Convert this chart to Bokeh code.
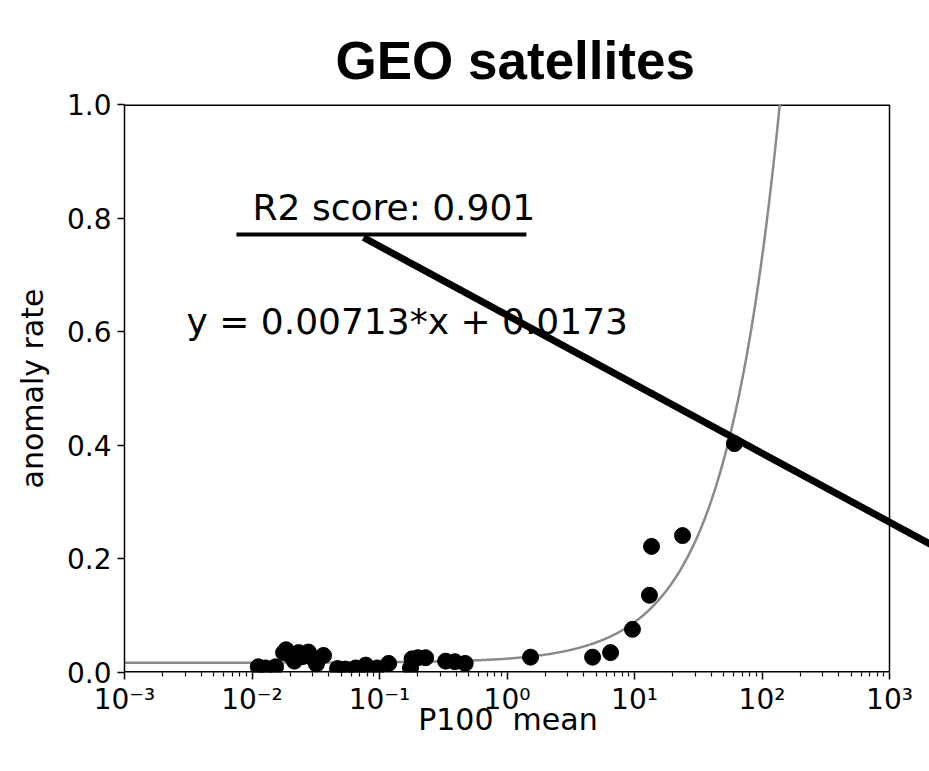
import numpy as np
from bokeh.plotting import figure
from bokeh.models import FixedTicker, CustomJSTickFormatter, PrintfTickFormatter, Arrow, Label, Range1d
from bokeh.embed import file_html
from bokeh.resources import INLINE

# ---- data ----
p100_mean = [0.0112, 0.0128, 0.0153, 0.0177, 0.0185, 0.0200, 0.0215, 0.0232, 0.0250,
             0.0277, 0.0300, 0.0320, 0.0364, 0.0469, 0.054, 0.065, 0.078, 0.096,
             0.118, 0.175, 0.18, 0.20, 0.23, 0.33, 0.39, 0.47,
             1.53, 4.69, 6.49, 9.64, 13.1, 13.6, 23.8, 60.8]
anomaly_rate = [0.010, 0.008, 0.010, 0.035, 0.040, 0.030, 0.020, 0.035, 0.028,
                0.036, 0.025, 0.015, 0.030, 0.007, 0.006, 0.008, 0.013, 0.008,
                0.016, 0.008, 0.024, 0.026, 0.026, 0.020, 0.019, 0.016,
                0.027, 0.027, 0.035, 0.076, 0.136, 0.222, 0.241, 0.403]

fit_slope = 0.00713
fit_intercept = 0.0173
r2_score = 0.901
title_text = "GEO satellites"

x_min, x_max = 1e-3, 1e3
y_min, y_max = 0.0, 1.0
x_major_ticks = [1e-3, 1e-2, 1e-1, 1e0, 1e1, 1e2, 1e3]
y_major_ticks = [0.0, 0.2, 0.4, 0.6, 0.8, 1.0]

FONT = "DejaVu Sans"

# frame is widened to the page edge so the pointer line can run past the axes box;
# the visible box (x_min..x_max) is drawn by hand
x_view_end = 10 ** 3.3137

p = figure(width=929, height=763, x_axis_type="log",
           x_range=Range1d(x_min, x_view_end), y_range=Range1d(y_min, y_max),
           output_backend="svg", toolbar_location=None,
           min_border_left=124, min_border_right=0,
           min_border_top=104, min_border_bottom=91,
           title=title_text)

p.title.text_font = "Liberation Sans"
p.title.text_font_size = "53px"
p.title.text_font_style = "bold"
p.title.align = "left"
p.title.offset = 211
p.title.vertical_align = "bottom"
p.title.standoff = 30
p.title.text_color = "black"

p.grid.visible = False
p.outline_line_color = None
p.background_fill_color = "white"
p.border_fill_color = "white"

# axes box (top, bottom, right spines)
p.segment(x0=[x_min, x_min, x_max], y0=[y_max, y_min, y_min],
          x1=[x_max, x_max, x_max], y1=[y_max, y_min, y_max],
          line_color="black", line_width=[3, 3, 1.5])

# fit curve
curve_x = np.logspace(-3, 3.4, 600)
curve_y = fit_slope * curve_x + fit_intercept
p.line(curve_x, curve_y, line_color="#8a8a8a", line_width=2.5)

# points
p.scatter(p100_mean, anomaly_rate, size=16, fill_color="black", line_color="black")

# axes
minor = [k * 10.0 ** d for d in range(-3, 3) for k in range(2, 10)]
p.xaxis.ticker = FixedTicker(ticks=x_major_ticks, minor_ticks=minor)
p.xaxis.formatter = CustomJSTickFormatter(code="""
const sup = {'-':'\u207b','0':'\u2070','1':'\u00b9','2':'\u00b2','3':'\u00b3','4':'\u2074','5':'\u2075','6':'\u2076','7':'\u2077','8':'\u2078','9':'\u2079'};
const e = Math.round(Math.log10(tick));
return '10' + String(e).split('').map(c => sup[c]).join('');
""")
p.yaxis.ticker = FixedTicker(ticks=y_major_ticks, minor_ticks=[])
p.yaxis.formatter = PrintfTickFormatter(format="%.1f")

for ax in (p.xaxis[0], p.yaxis[0]):
    ax.major_tick_out = 7
    ax.major_tick_in = 0
    ax.minor_tick_out = 4
    ax.minor_tick_in = 0
    ax.major_tick_line_width = 1.5
    ax.minor_tick_line_width = 1.2
    ax.axis_line_width = 1.5
    ax.major_tick_line_color = "black"
    ax.minor_tick_line_color = "black"
    ax.axis_line_color = "black"
    ax.major_label_text_font = FONT
    ax.major_label_text_font_size = "28px"
    ax.major_label_text_color = "black"
    ax.axis_label_text_font = FONT
    ax.axis_label_text_font_size = "30px"
    ax.axis_label_text_font_style = "normal"
    ax.axis_label_text_color = "black"

p.xaxis.axis_line_color = None
# trailing no-break spaces keep the label centred under the visible box
p.xaxis.axis_label = "P100\u00a0 mean" + "\u00a0" * 4
p.yaxis.axis_label = "anomaly rate"
p.xaxis.major_label_standoff = 3
p.xaxis.axis_label_standoff = -17
p.yaxis.major_label_standoff = 6
p.yaxis.axis_label_standoff = 14

# annotation: R2 text with underline and pointer line
p.add_layout(Label(x=0.0101, y=0.818, text=f"R2 score: {r2_score}",
                   text_font=FONT, text_font_size="36px", text_color="black",
                   text_baseline="alphabetic", text_align="left"))
p.add_layout(Arrow(end=None, x_start=0.00755, y_start=0.771, x_end=1.42, y_end=0.771,
                   line_width=4, line_color="black"))
p.add_layout(Arrow(end=None, x_start=0.0749, y_start=0.7658, x_end=3162.0, y_end=0.204,
                   line_width=7, line_color="black"))
p.add_layout(Label(x=0.00306, y=0.6175, text=f"y = {fit_slope}*x + {fit_intercept}",
                   text_font=FONT, text_font_size="36px", text_color="black",
                   text_baseline="alphabetic", text_align="left"))

open("out.html", "w").write(file_html(p, INLINE))
